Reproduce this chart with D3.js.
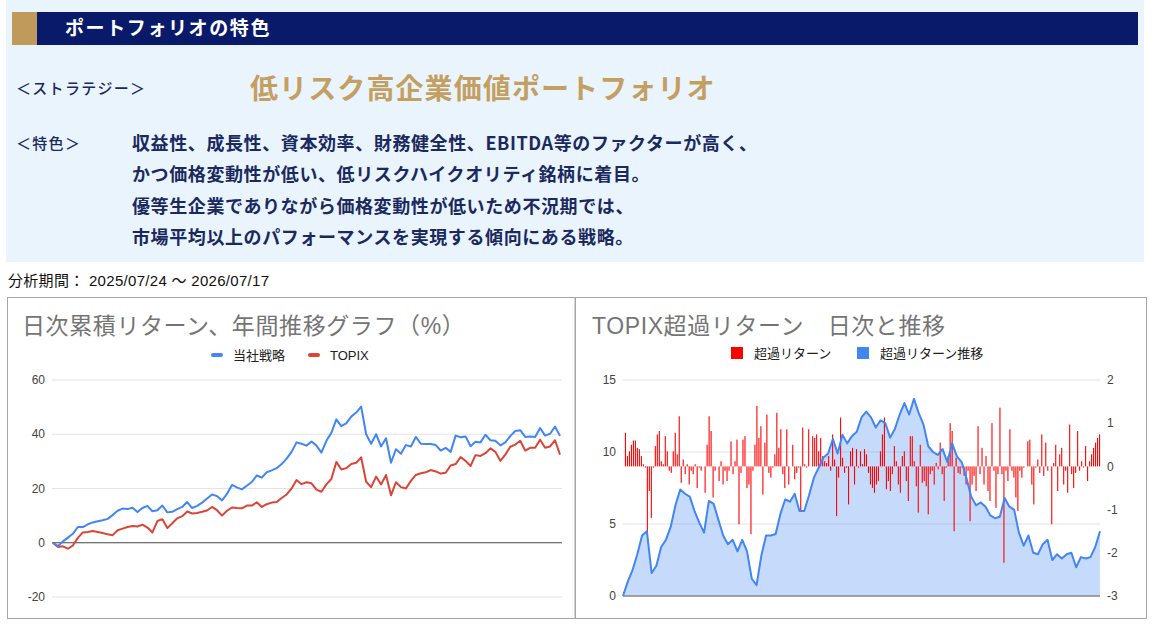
<!DOCTYPE html>
<html>
<head>
<meta charset="utf-8">
<script src="https://cdn.jsdelivr.net/npm/d3@7"></script>
<style>
  body { margin: 0; background: #ffffff; }
</style>
</head>
<body>
<div id="page"></div>
<script>
// ---- text ----
var header_title = "ポートフォリオの特色"
var strategy_label = "＜ストラテジー＞"
var strategy_name = "低リスク高企業価値ポートフォリオ"
var feature_label = "＜特色＞"
var feature_lines = [
    "収益性、成長性、資本効率、財務健全性、EBITDA等のファクターが高く、",
    "かつ価格変動性が低い、低リスクハイクオリティ銘柄に着目。",
    "優等生企業でありながら価格変動性が低いため不況期では、",
    "市場平均以上のパフォーマンスを実現する傾向にある戦略。"
]
var period_text = "分析期間： 2025/07/24 〜 2026/07/17"

// ---- left chart: cumulative return (%) ----
var return_title = "日次累積リターン、年間推移グラフ（%）"
var return_series = ["当社戦略", "TOPIX"]
var return_ticks = [-20, 0, 20, 40, 60]
var strategy_return = [
    0, -1.2, 0.5, 1.9, 3.3, 5.8, 5.8, 6.8, 7.5, 7.9,
    8.3, 8.8, 10.2, 11.8, 12.6, 12.4, 12.9, 11.3, 12.8, 13.6,
    11.6, 12.0, 13.7, 11.2, 11.4, 12.4, 13.2, 15.0, 12.8, 13.6,
    14.8, 16.3, 17.8, 17.2, 15.6, 18.0, 21.3, 20.4, 19.7, 21.0,
    22.4, 24.8, 24.0, 26.0, 26.7, 27.5, 29.0, 31.0, 33.5, 37.0,
    36.5, 35.8, 37.3, 35.8, 33.2, 37.6, 40.5, 45.5, 43.0, 44.0,
    46.5, 48.0, 50.2, 40.0, 36.5, 40.0, 35.5, 38.5, 29.5, 34.5,
    32.8, 36.0, 35.5, 39.0, 36.5, 36.4, 36.4, 36.0, 34.0, 35.0,
    33.5, 39.5, 38.9, 39.2, 35.6, 37.2, 37.0, 39.8, 37.8, 37.6,
    35.9, 37.0, 39.3, 41.2, 41.5, 39.0, 39.2, 39.0, 42.3, 39.5,
    40.2, 42.8, 39.4
]
var topix_return = [
    0, -1.6, -1.3, -2.2, -1.0, 1.8, 3.8, 4.0, 4.3, 4.0,
    3.6, 3.1, 2.8, 4.6, 5.2, 5.8, 6.2, 6.0, 6.7, 5.6,
    3.8, 8.0, 8.7, 5.4, 7.2, 9.0, 9.8, 11.5, 10.8, 11.0,
    11.4, 11.9, 13.2, 12.0, 10.0, 11.8, 13.0, 12.8, 12.7, 13.7,
    13.7, 14.9, 13.2, 14.2, 14.8, 15.0, 16.5, 17.8, 20.0, 23.1,
    21.6, 22.3, 21.9, 19.6, 18.8, 21.5, 23.5, 29.8, 27.0, 27.5,
    29.0, 29.5, 31.5, 22.5, 20.5, 24.4, 21.5, 25.0, 17.5, 22.3,
    20.5, 20.0, 22.8, 25.0, 25.6, 26.0, 26.8, 26.3, 25.5, 25.8,
    28.5, 29.0, 31.6, 30.2, 28.3, 32.3, 32.0, 33.0, 34.8, 33.5,
    30.2, 32.5, 35.4, 36.2, 37.6, 34.0, 35.0, 35.0, 38.0, 35.0,
    35.5, 37.8, 32.5
]

// ---- right chart: excess return vs TOPIX ----
var excess_title = "TOPIX超過リターン　日次と推移"
var excess_series = ["超過リターン", "超過リターン推移"]
var cumulative_ticks = [0, 5, 10, 15]
var daily_ticks = [-3, -2, -1, 0, 1, 2]
var excess_daily = [
    0.78, 0.24, 0.35, 0.5, 0.6, 0.6, 0.43, 0.4, 0.24, 0.05,
    -0.03, -1.57, -0.57, -1.19, -0.03, 0.47, 0.74, 0.82, 0.12, 0.05,
    0.7, 0.35, -0.1, -0.15, 0.35, 0.78, 0.28, 1.16, -0.38, 0.16,
    -0.18, 0.05, -0.42, -0.1, -0.18, 0.05, -0.5, -0.03, -0.1, 0,
    -0.61, 0.5, 1.16, 0.82, -0.72, -0.1, 0, -0.34, 0.12, -0.42,
    -0.1, -0.34, -0.1, 0.58, -0.18, 0.12, 0.62, -1.34, -0.15, 0.62,
    0.7, -0.5, -0.42, -1.57, -0.1, 0.5, 1.4, 0.66, 0.93, -0.65,
    0.55, 1.2, -0.15, -0.26, -0.03, 0.28, 1.24, 0.43, 0.86, -0.18,
    -0.5, 0.86, -0.42, 0, 0.5, -0.3, -0.15, -0.03, -1.03, 0.9,
    0.05, -0.03, 0.86, 0, 0.7, 0.66, 0.74, 0.35, 0.66, 0.24,
    0.12, 0.08, 0.24, -0.1, 0.74, 0.16, -1.15, -0.26, 1.13, 0.2,
    -0.15, -0.03, -0.88, 0.35, 0.43, -0.42, 0.4, -0.03, 0.35, 0.05,
    0.4, 0.28, -0.15, -0.42, -0.5, -0.61, -0.42, -0.34, 0.35, 0.74,
    1.13, -0.53, -0.34, -0.57, -0.18, 0.47, 0.12, -0.42, -0.61, 0.24,
    0.35, -0.34, -0.8, 0.7, 0.7, 0.12, -0.46, -1.07, 0.5, -0.38,
    -0.34, -0.46, -1.11, -0.18, -0.1, -0.42, 0.08, -0.07, 0.55, -0.18,
    -0.8, -0.03, 0.24, 1.0, 0.82, -1.5, 0.2, -0.15, -0.18, -0.03,
    -0.22, -0.42, -0.1, -1.27, -0.42, -0.22, -0.57, 0.93, -0.18, 0.43,
    -0.42, 0.24, -0.57, -0.8, 1.0, -0.1, -0.96, -0.18, 1.36, -0.18,
    -2.23, -0.1, -0.34, 0.86, -0.1, -0.26, -0.72, -1.03, -0.1, -0.26,
    -0.03, 0, 0.58, 0.62, -0.42, -0.88, -0.03, 0.16, -0.15, 0.74,
    -0.22, 0.55, -0.1, 0, -1.34, 0.08, 0.5, -0.57, 0.28, 0.43,
    -0.42, -0.1, -0.61, 0.97, -0.18, -0.5, -0.15, 0.82, -0.1, 0.12,
    -0.03, 0.47, -0.34, 0.12, 0.28, 0.43, 0.55, 0.66, 0.74
]
var excess_cumulative = [
    0.0, 1.0, 1.8, 2.9, 4.2, 4.5, 1.6, 2.1, 3.4, 3.9,
    4.8, 6.3, 7.4, 7.1, 6.9, 5.9, 5.1, 4.4, 6.6, 6.4,
    5.3, 4.2, 3.6, 3.9, 3.1, 3.9, 3.1, 1.2, 0.75, 2.8,
    4.2, 4.2, 4.3, 5.7, 6.7, 6.55, 7.1, 5.9, 5.9, 7.0,
    8.2, 8.9, 9.6, 9.9, 10.9, 9.9, 11.2, 10.6, 11.1, 11.4,
    12.4, 12.8, 12.4, 11.7, 12.2, 12.0, 11.0, 11.6, 12.6, 13.4,
    12.6, 13.7, 12.7, 11.9, 10.4, 10.0, 9.8, 10.2, 9.3, 10.6,
    9.7, 9.3, 8.2, 6.9, 6.3, 6.5, 6.2, 5.6, 5.4, 5.5,
    6.8, 6.2, 6.0, 4.4, 3.5, 4.2, 3.0, 2.9, 3.6, 3.9,
    2.5, 2.9, 2.6, 2.9, 3.0, 2.0, 2.7, 2.6, 2.7, 3.4,
    4.5
]

var chart_font = "'Liberation Sans', Arial, 'Noto Sans CJK JP', sans-serif"
var jp_font = "'Noto Sans CJK JP', sans-serif"
var navy = "#0a1a6b"
var text_navy = "#1b2a5e"
var gold = "#c39f62"
var grid_color = "#e3e3e3"

var svg = d3.select("#page").append("svg")
    .attr("width", 1152)
    .attr("height", 625)

function draw_header() {
    svg.append("rect")
        .attr("x", 6).attr("y", 0).attr("width", 1138).attr("height", 262)
        .attr("fill", "#eaf4fd")
    svg.append("rect")
        .attr("x", 12).attr("y", 12).attr("width", 1126).attr("height", 33)
        .attr("fill", navy)
    svg.append("rect")
        .attr("x", 12).attr("y", 12).attr("width", 25).attr("height", 33)
        .attr("fill", "#c09a5b")
    svg.append("text")
        .text(header_title)
        .attr("x", 65).attr("y", 35)
        .attr("font-family", jp_font).attr("font-size", 19).attr("font-weight", "bold")
        .attr("letter-spacing", 1.6)
        .attr("fill", "#ffffff")

    svg.append("text")
        .text(strategy_label)
        .attr("x", 16).attr("y", 94)
        .attr("font-family", jp_font).attr("font-size", 15).attr("font-weight", 500)
        .attr("letter-spacing", 1.3)
        .attr("fill", text_navy)
    svg.append("text")
        .text(strategy_name)
        .attr("x", 250).attr("y", 99)
        .attr("font-family", jp_font).attr("font-size", 28).attr("font-weight", "bold")
        .attr("letter-spacing", 1.1)
        .attr("fill", gold)

    svg.append("text")
        .text(feature_label)
        .attr("x", 16).attr("y", 149)
        .attr("font-family", jp_font).attr("font-size", 15).attr("font-weight", 500)
        .attr("letter-spacing", 1.3)
        .attr("fill", text_navy)
    svg.selectAll(".feature-line").data(feature_lines)
        .enter().append("text")
        .attr("class", "feature-line")
        .attr("x", 132)
        .attr("y", function (d, i) { return 150 + i * 31.3; })
        .text(function (d) { return d; })
        .attr("font-family", jp_font).attr("font-size", 18).attr("font-weight", "bold")
        .attr("letter-spacing", 0.6)
        .attr("fill", text_navy)

    svg.append("text")
        .text(period_text)
        .attr("x", 8).attr("y", 286)
        .attr("font-family", chart_font).attr("font-size", 15)
        .attr("letter-spacing", 0.3)
        .attr("fill", "#111111")
}

function draw_return_chart() {
    var box = { "x": 7.5, "y": 297.5, "width": 567.5, "height": 321 };
    svg.append("rect")
        .attr("x", box.x).attr("y", box.y).attr("width", box.width).attr("height", box.height)
        .attr("fill", "#ffffff").attr("stroke", "#a6a6a6")

    svg.append("text")
        .text(return_title)
        .attr("x", 22).attr("y", 334)
        .attr("font-family", chart_font).attr("font-size", 23)
        .attr("letter-spacing", 0.6)
        .attr("fill", "#757575")

    // legend
    var legend_colors = ["#4285f4", "#db4437"];
    var legend_x = [211, 308];
    var legend = svg.selectAll(".return-legend").data(return_series)
        .enter().append("g")
        .attr("class", "return-legend")
        .attr("transform", function (d, i) { return "translate(" + legend_x[i] + ",355)"; })
    legend.append("rect")
        .attr("x", 0).attr("y", -2).attr("width", 12).attr("height", 4).attr("rx", 2)
        .attr("fill", function (d, i) { return legend_colors[i]; })
    legend.append("text")
        .attr("x", 22).attr("y", 4.5)
        .text(function (d) { return d; })
        .attr("font-family", chart_font).attr("font-size", 13)
        .attr("fill", "#222222")

    var x_scale = d3.scaleLinear()
        .domain([0, strategy_return.length - 1])
        .range([53, 560]);
    var y_scale = d3.scaleLinear()
        .domain([-20, 60])
        .range([597, 380]);

    svg.selectAll(".return-grid").data(return_ticks.filter(function (d) { return d != 0; }))
        .enter().append("line")
        .attr("class", "return-grid")
        .attr("x1", 52).attr("x2", 562)
        .attr("y1", function (d) { return y_scale(d); })
        .attr("y2", function (d) { return y_scale(d); })
        .attr("stroke", grid_color).attr("stroke-width", 1.2)
    svg.selectAll(".return-tick").data(return_ticks)
        .enter().append("text")
        .attr("class", "return-tick")
        .attr("x", 45)
        .attr("y", function (d) { return y_scale(d); })
        .attr("dy", "0.35em")
        .style("text-anchor", "end")
        .text(function (d) { return d; })
        .attr("font-family", chart_font).attr("font-size", 12)
        .attr("fill", "#444444")
    svg.append("line")
        .attr("x1", 52).attr("x2", 562)
        .attr("y1", y_scale(0)).attr("y2", y_scale(0))
        .attr("stroke", "#444444").attr("stroke-width", 1)

    var line = d3.line()
        .x(function (d, i) { return x_scale(i); })
        .y(function (d) { return y_scale(d); });
    var lines = [topix_return, strategy_return];
    var colors = ["#db4437", "#4285f4"];
    svg.selectAll(".return-line").data(lines)
        .enter().append("path")
        .attr("class", "return-line")
        .attr("d", line)
        .attr("fill", "none")
        .attr("stroke", function (d, i) { return colors[i]; })
        .attr("stroke-width", 2)
        .attr("stroke-linejoin", "round")
}

function draw_excess_chart() {
    var box = { "x": 575.5, "y": 297.5, "width": 571, "height": 321 };
    svg.append("rect")
        .attr("x", box.x).attr("y", box.y).attr("width", box.width).attr("height", box.height)
        .attr("fill", "#ffffff").attr("stroke", "#a6a6a6")

    svg.append("text")
        .text(excess_title)
        .attr("x", 592).attr("y", 334)
        .attr("font-family", chart_font).attr("font-size", 23)
        .attr("letter-spacing", 0.6)
        .attr("fill", "#757575")

    var legend_colors = ["#ff0000", "#4285f4"];
    var legend_x = [731, 857];
    var legend = svg.selectAll(".excess-legend").data(excess_series)
        .enter().append("g")
        .attr("class", "excess-legend")
        .attr("transform", function (d, i) { return "translate(" + legend_x[i] + ",353)"; })
    legend.append("rect")
        .attr("x", 0).attr("y", -6).attr("width", 12).attr("height", 12)
        .attr("fill", function (d, i) { return legend_colors[i]; })
    legend.append("text")
        .attr("x", 23).attr("y", 4.5)
        .text(function (d) { return d; })
        .attr("font-family", chart_font).attr("font-size", 13)
        .attr("fill", "#222222")

    var x_line = d3.scaleLinear()
        .domain([0, excess_cumulative.length - 1])
        .range([623, 1100]);
    var x_band = d3.scaleBand()
        .domain(d3.range(excess_daily.length))
        .range([624, 1101])
        .padding(0.45);
    var y_left = d3.scaleLinear().domain([0, 15]).range([596, 380]);
    var y_right = d3.scaleLinear().domain([-3, 2]).range([596, 380]);

    svg.selectAll(".excess-grid").data(cumulative_ticks.filter(function (d) { return d != 0; }))
        .enter().append("line")
        .attr("class", "excess-grid")
        .attr("x1", 623).attr("x2", 1100)
        .attr("y1", function (d) { return y_left(d); })
        .attr("y2", function (d) { return y_left(d); })
        .attr("stroke", grid_color).attr("stroke-width", 1.2)
    svg.selectAll(".excess-tick-left").data(cumulative_ticks)
        .enter().append("text")
        .attr("class", "excess-tick-left")
        .attr("x", 616)
        .attr("y", function (d) { return y_left(d); })
        .attr("dy", "0.35em")
        .style("text-anchor", "end")
        .text(function (d) { return d; })
        .attr("font-family", chart_font).attr("font-size", 12)
        .attr("fill", "#444444")
    svg.selectAll(".excess-tick-right").data(daily_ticks)
        .enter().append("text")
        .attr("class", "excess-tick-right")
        .attr("x", 1107)
        .attr("y", function (d) { return y_right(d); })
        .attr("dy", "0.35em")
        .text(function (d) { return d; })
        .attr("font-family", chart_font).attr("font-size", 12)
        .attr("fill", "#444444")

    var area = d3.area()
        .x(function (d, i) { return x_line(i); })
        .y0(y_left(0))
        .y1(function (d) { return y_left(d); });
    svg.append("path")
        .attr("d", area(excess_cumulative))
        .attr("fill", "#4285f4").attr("fill-opacity", 0.3)

    svg.selectAll(".excess-bar").data(excess_daily)
        .enter().append("rect")
        .attr("class", "excess-bar")
        .attr("x", function (d, i) { return x_band(i); })
        .attr("width", x_band.bandwidth())
        .attr("y", function (d) { return Math.min(y_right(d), y_right(0)); })
        .attr("height", function (d) { return Math.abs(y_right(d) - y_right(0)); })
        .attr("fill", "#ff0000")

    svg.append("line")
        .attr("x1", 623).attr("x2", 1100)
        .attr("y1", y_left(0)).attr("y2", y_left(0))
        .attr("stroke", "#888888").attr("stroke-width", 1.5)

    var line = d3.line()
        .x(function (d, i) { return x_line(i); })
        .y(function (d) { return y_left(d); });
    svg.append("path")
        .attr("d", line(excess_cumulative))
        .attr("fill", "none")
        .attr("stroke", "#4285f4").attr("stroke-width", 2)
        .attr("stroke-linejoin", "round")
}

draw_header();
draw_return_chart();
draw_excess_chart();
</script>
</body>
</html>
